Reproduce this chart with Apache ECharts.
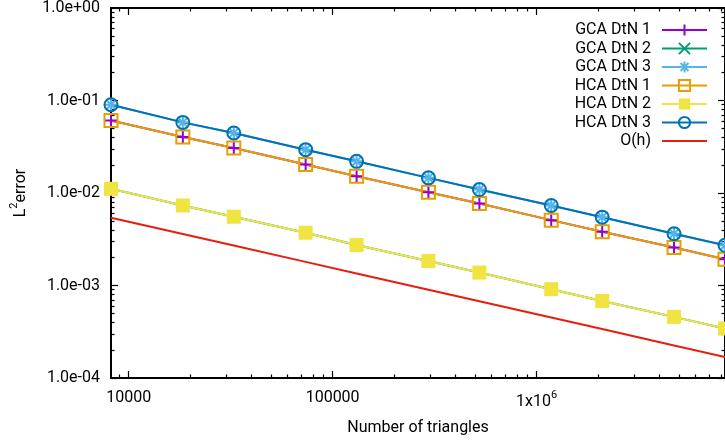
<!DOCTYPE html>
<html><head><meta charset="utf-8">
<script src="https://cdn.jsdelivr.net/npm/echarts@6/dist/echarts.min.js"></script>
<style>html,body{margin:0;padding:0;background:#fff}#c{width:725px;height:441px}</style>
</head><body><div id="c"></div>
<script>
const triangles = [8192, 18432, 32768, 73728, 131072, 294912, 524288, 1179648, 2097152, 4718592, 8388608];
const gcaDtN1 = [0.0609, 0.0404, 0.0307, 0.0203, 0.0152, 0.0102, 0.00771, 0.00509, 0.00382, 0.00257, 0.00192];
const gcaDtN2 = [0.0111, 0.00733, 0.00554, 0.00372, 0.00274, 0.00184, 0.00138, 0.000912, 0.000681, 0.000458, 0.000343];
const gcaDtN3 = [0.0900, 0.0580, 0.0446, 0.0294, 0.0220, 0.01458, 0.01091, 0.00733, 0.00548, 0.00363, 0.00272];
const hcaDtN1 = [0.0609, 0.0404, 0.0307, 0.0203, 0.0152, 0.0102, 0.00771, 0.00509, 0.00382, 0.00257, 0.00192];
const hcaDtN2 = [0.0111, 0.00733, 0.00554, 0.00372, 0.00274, 0.00184, 0.00138, 0.000912, 0.000681, 0.000458, 0.000343];
const hcaDtN3 = [0.0900, 0.0580, 0.0446, 0.0294, 0.0220, 0.01458, 0.01091, 0.00733, 0.00548, 0.00363, 0.00272];
const orderH = [0.00540, 0.00360, 0.00270, 0.00180, 0.00135, 0.00090, 0.000675, 0.00045, 0.000338, 0.000225, 0.000169];

const xTickValues = [10000, 100000, 1000000];
const xTickLabels = ['10000', '100000', '{b|1x10}{s|6}'];
const xMinorTicks = [9000, 20000, 30000, 40000, 50000, 60000, 70000, 80000, 90000,
  200000, 300000, 400000, 500000, 600000, 700000, 800000, 900000,
  2000000, 3000000, 4000000, 5000000, 6000000, 7000000, 8000000];
const yTickValues = [0.0001, 0.001, 0.01, 0.1, 1];
const yTickLabels = ['1.0e-04', '1.0e-03', '1.0e-02', '1.0e-01', '1.0e+00'];
const yMinorTicks = [0.0002, 0.0003, 0.0004, 0.0005, 0.0006, 0.0007, 0.0008, 0.0009,
  0.002, 0.003, 0.004, 0.005, 0.006, 0.007, 0.008, 0.009,
  0.02, 0.03, 0.04, 0.05, 0.06, 0.07, 0.08, 0.09,
  0.2, 0.3, 0.4, 0.5, 0.6, 0.7, 0.8, 0.9];

const FONT = 'Roboto';
const xMin = triangles[0], xMax = triangles[triangles.length - 1];
const axisLineStyle = { color: '#000', width: 2 };

function xAxisDef(pos, ticks, len, labels) {
  return {
    type: 'log', logBase: 10, min: xMin, max: xMax, position: pos,
    axisLine: { show: true, lineStyle: axisLineStyle },
    axisTick: { show: true, inside: true, length: len, customValues: ticks, lineStyle: { color: '#000', width: 1.2 } },
    axisLabel: labels ? {
      show: true, customValues: xTickValues, margin: 12, color: '#000', fontFamily: FONT, fontSize: 16,
      formatter: v => { const i = xTickValues.findIndex(t => Math.abs(t - v) / t < 1e-6); return i >= 0 ? xTickLabels[i] : ''; },
      rich: { b: { fontSize: 16, fontFamily: FONT, color: '#000', verticalAlign: 'bottom', lineHeight: 20 },
              s: { fontSize: 11, fontFamily: FONT, color: '#000', verticalAlign: 'top', lineHeight: 12 } }
    } : { show: false },
    splitLine: { show: false }, minorTick: { show: false }, minorSplitLine: { show: false }
  };
}
function yAxisDef(pos, ticks, len, labels) {
  return {
    type: 'log', logBase: 10, min: 0.0001, max: 1, position: pos,
    axisLine: { show: true, lineStyle: axisLineStyle },
    axisTick: { show: true, inside: true, length: len, customValues: ticks, lineStyle: { color: '#000', width: 1.2 } },
    axisLabel: labels ? {
      show: true, customValues: yTickValues, margin: 11, color: '#000', fontFamily: FONT, fontSize: 16,
      formatter: v => { const i = yTickValues.findIndex(t => Math.abs(t - v) / t < 1e-6); return i >= 0 ? yTickLabels[i] : ''; }
    } : { show: false },
    splitLine: { show: false }, minorTick: { show: false }, minorSplitLine: { show: false }
  };
}

const xAxes = [xAxisDef('bottom', xTickValues, 7, true), xAxisDef('bottom', xMinorTicks, 3.5, false),
  xAxisDef('top', xTickValues, 7, false), xAxisDef('top', xMinorTicks, 3.5, false)];
xAxes[0].name = 'Number of triangles';
xAxes[0].nameLocation = 'middle';
xAxes[0].nameGap = 42;
xAxes[0].nameTextStyle = { fontFamily: FONT, fontSize: 16, color: '#000' };
const yAxes = [yAxisDef('left', yTickValues, 7, true), yAxisDef('left', yMinorTicks, 3.5, false),
  yAxisDef('right', yTickValues, 7, false), yAxisDef('right', yMinorTicks, 3.5, false)];
yAxes[0].name = '{b|L}{s|2}{b|error}';
yAxes[0].nameLocation = 'middle';
yAxes[0].nameRotate = 90;
yAxes[0].nameGap = 82;
yAxes[0].nameTextStyle = { fontFamily: FONT, fontSize: 16, color: '#000',
  rich: { b: { fontSize: 16, fontFamily: FONT, color: '#000', verticalAlign: 'bottom', lineHeight: 20 },
          s: { fontSize: 11, fontFamily: FONT, color: '#000', verticalAlign: 'top', lineHeight: 12 } } };

const PLUS = 'path://M0 5L10 5M5 0L5 10';
const CROSS = 'path://M0 0L10 10M10 0L0 10';
const STAR = 'path://M0 5L10 5M5 0L5 10M1.5 1.5L8.5 8.5M8.5 1.5L1.5 8.5';

function mk(name, vals, color, symbol, size, itemStyle) {
  return {
    name, type: 'line', xAxisIndex: 0, yAxisIndex: 0,
    data: triangles.map((t, i) => [t, vals[i]]),
    symbol, symbolSize: size, showSymbol: symbol !== 'none',
    lineStyle: { color, width: 2 }, color,
    itemStyle, emphasis: { disabled: true }, animation: false, clip: false
  };
}
const series = [
  mk('GCA DtN 1', gcaDtN1, '#9400d3', PLUS, 12, { color: 'rgba(0,0,0,0)', borderColor: '#9400d3', borderWidth: 2 }),
  mk('GCA DtN 2', gcaDtN2, '#009e73', CROSS, 12, { color: 'rgba(0,0,0,0)', borderColor: '#009e73', borderWidth: 2 }),
  mk('GCA DtN 3', gcaDtN3, '#56b4e9', STAR, 12, { color: 'rgba(0,0,0,0)', borderColor: '#56b4e9', borderWidth: 2 }),
  mk('HCA DtN 1', hcaDtN1, '#e69f00', 'rect', 13, { color: 'rgba(0,0,0,0)', borderColor: '#e69f00', borderWidth: 2 }),
  mk('HCA DtN 2', hcaDtN2, '#f0e442', 'rect', 14, { color: '#f0e442', borderColor: '#f0e442', borderWidth: 0 }),
  mk('HCA DtN 3', hcaDtN3, '#0072b2', 'circle', 13, { color: 'rgba(0,0,0,0)', borderColor: '#0072b2', borderWidth: 2 }),
  mk('O(h)', orderH, '#e51e10', 'none', 0, { color: '#e51e10', opacity: 0 })
];
series[6].clip = true;

const legendData = series.map(s => s.name === 'O(h)'
  ? { name: s.name, itemStyle: { opacity: 0 } }
  : { name: s.name });

const chart = echarts.init(document.getElementById('c'), null, { renderer: 'canvas' });
chart.setOption({
  animation: false,
  backgroundColor: '#fff',
  grid: { left: 111, top: 8, width: 618, height: 371, containLabel: false },
  xAxis: xAxes, yAxis: yAxes,
  legend: {
    orient: 'vertical', right: 12, top: 17, align: 'right',
    itemWidth: 45, itemHeight: 14, itemGap: 2.5,
    textStyle: { fontFamily: FONT, fontSize: 16, lineHeight: 14, color: '#000', padding: [0, 6, 0, 0] },
    data: legendData
  },
  series
});
</script></body></html>
